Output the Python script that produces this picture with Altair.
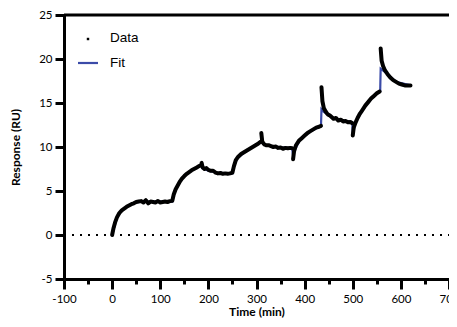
import altair as alt
import pandas as pd

# ---- data ----
seg_t = [
    [0, 3, 6, 10, 15, 20, 25, 30, 35, 40, 45, 50, 55, 60, 65, 70, 75, 80, 85, 90, 95, 100, 105, 110,
     115, 120, 125, 128, 132, 136, 140, 145, 150, 155, 160, 165, 170, 175, 180, 185],
    [186, 188, 192, 196, 200, 205, 210, 215, 220, 225, 230, 235, 240, 245, 250, 253, 257, 262, 268,
     274, 280, 286, 292, 298, 304, 309],
    [310, 312, 316, 320, 325, 330, 335, 340, 345, 350, 355, 360, 365, 370, 374],
    [376, 378, 382, 388, 394, 400, 406, 412, 418, 424, 430, 434],
    [435, 437, 440, 444, 448, 452, 456, 460, 465, 470, 475, 480, 485, 490, 495, 499],
    [500, 502, 506, 510, 515, 520, 526, 532, 538, 544, 550, 556],
    [558, 560, 563, 567, 572, 578, 584, 590, 596, 602, 608, 614, 620],
]
seg_y = [
    [0, 0.8, 1.4, 2.0, 2.5, 2.8, 3.0, 3.2, 3.35, 3.5, 3.6, 3.75, 3.8, 3.85, 3.7, 3.95, 3.6, 3.8, 3.75,
     3.7, 3.85, 3.7, 3.75, 3.8, 3.75, 3.85, 3.9, 4.6, 5.2, 5.6, 6.0, 6.4, 6.7, 6.95, 7.15, 7.35, 7.5,
     7.65, 7.8, 7.95],
    [8.2, 7.7, 7.5, 7.6, 7.4, 7.3, 7.3, 7.1, 7.0, 7.05, 6.95, 7.0, 6.95, 7.0, 7.1, 7.8, 8.5, 8.9, 9.2,
     9.4, 9.6, 9.8, 10.0, 10.2, 10.4, 10.6],
    [11.6, 10.6, 10.3, 10.2, 10.2, 10.1, 10.0, 10.05, 9.9, 9.95, 9.8, 9.9, 9.85, 9.9, 9.85],
    [8.6, 9.5, 10.2, 10.7, 11.0, 11.3, 11.6, 11.8, 12.0, 12.2, 12.3, 12.4],
    [16.8, 15.2, 14.4, 14.0, 13.7, 13.6, 13.4, 13.2, 13.3, 13.0, 13.1, 12.9, 12.95, 12.8, 12.85, 12.7],
    [11.3, 12.2, 12.8, 13.3, 13.8, 14.2, 14.7, 15.1, 15.5, 15.8, 16.1, 16.3],
    [21.2, 19.8, 19.2, 18.7, 18.3, 17.9, 17.6, 17.4, 17.2, 17.1, 17.0, 17.0, 17.0],
]
fit_t = [0, 10, 20, 30, 40, 50, 60, 125, 130, 140, 150, 160, 170, 185, 186, 187, 200, 220, 250, 253,
         260, 280, 300, 309, 311, 320, 350, 374, 376, 378, 390, 410, 434, 435, 440, 460, 499, 500,
         506, 520, 540, 557, 558, 572, 590, 620]
fit_y = [0, 2.0, 2.8, 3.2, 3.5, 3.7, 3.8, 3.8, 5.0, 6.0, 6.7, 7.15, 7.5, 7.9, 7.9, 7.6, 7.3, 7.05,
         7.0, 7.8, 8.7, 9.6, 10.3, 10.6, 10.5, 10.2, 9.95, 9.85, 9.0, 9.5, 10.8, 11.7, 12.4, 14.3,
         14.0, 13.3, 12.8, 11.5, 12.8, 14.2, 15.6, 16.3, 18.9, 18.3, 17.4, 17.0]

legend_labels = ["Data", "Fit"]
x_ticks = list(range(-100, 701, 50))
y_ticks = [-5, 0, 5, 10, 15, 20, 25]

BLUE = "#3B4BA8"
FONT = "Lato"

rows = []
for i, (ts, ys) in enumerate(zip(seg_t, seg_y)):
    for t, y in zip(ts, ys):
        rows.append({"t": t, "y": y, "seg": i})
data_df = pd.DataFrame(rows)
fit_df = pd.DataFrame({"t": fit_t, "y": fit_y})
one = pd.DataFrame({"k": [0]})

xscale = alt.Scale(domain=[-100, 700], nice=False, zero=False)
yscale = alt.Scale(domain=[-5, 25], nice=False, zero=False)

x_axis = alt.Axis(
    values=x_ticks,
    labelExpr="datum.value % 100 === 0 ? ('' + datum.value) : ''",
    tickSize={"condition": {"test": "datum.value % 100 !== 0", "value": 5}, "value": 10},
    tickWidth=3, domainWidth=3, domainColor="black", tickColor="black",
    labelFont=FONT, labelFontSize=11.5, labelColor="black", labelPadding=4,
    labelFlush=False, labelOverlap=False,
    title="Time (min)", titleFont=FONT, titleFontSize=12, titleFontWeight="bold",
    titleColor="black", titlePadding=2, grid=False,
)
y_axis = alt.Axis(
    values=y_ticks, labelExpr="'' + datum.value",
    tickSize=9, tickWidth=3, domainWidth=3, domainColor="black",
    tickColor="black", labelFont=FONT, labelFontSize=11.5, labelColor="black",
    labelPadding=3, title="Response (RU)", titleFont=FONT, titleFontSize=12,
    titleFontWeight="bold", titleColor="black", titlePadding=16, grid=False,
)

X = alt.X("t:Q", scale=xscale, axis=x_axis)
Y = alt.Y("y:Q", scale=yscale, axis=y_axis)

fit_line = alt.Chart(fit_df).mark_line(color=BLUE, strokeWidth=2.2).encode(x=X, y=Y)
data_line = alt.Chart(data_df).mark_line(
    color="black", strokeWidth=4, strokeCap="round", strokeJoin="round"
).encode(x=X, y=Y, detail="seg:N")

top_rule = alt.Chart(one).mark_rule(color="black", strokeWidth=3).encode(y=alt.datum(25))
zero_rule = alt.Chart(one).mark_rule(
    color="black", strokeWidth=2, strokeDash=[2, 6]
).encode(y=alt.datum(0), x=alt.value(8), x2=alt.value(385))

leg_dot = alt.Chart(one).mark_square(color="black", size=6, opacity=1).encode(
    x=alt.value(24), y=alt.value(24)
)
leg_line = alt.Chart(one).mark_rule(color=BLUE, strokeWidth=2.2).encode(
    x=alt.value(14), x2=alt.value(34), y=alt.value(48)
)
txt = dict(align="left", baseline="middle", font="Liberation Sans", fontSize=13.5, color="black")
leg_t1 = alt.Chart(one).mark_text(text=legend_labels[0], **txt).encode(x=alt.value(46), y=alt.value(23))
leg_t2 = alt.Chart(one).mark_text(text=legend_labels[1], **txt).encode(x=alt.value(46), y=alt.value(48))

chart = alt.layer(
    fit_line, data_line, top_rule, zero_rule, leg_dot, leg_line, leg_t1, leg_t2
).properties(
    width=385, height=264,
    autosize=alt.AutoSizeParams(type="none"),
    padding={"left": 56, "top": 7, "right": 0, "bottom": 40},
).configure_view(stroke=None).configure(background="white")

chart.save("out.html", embed_options={"renderer": "svg", "actions": False})
